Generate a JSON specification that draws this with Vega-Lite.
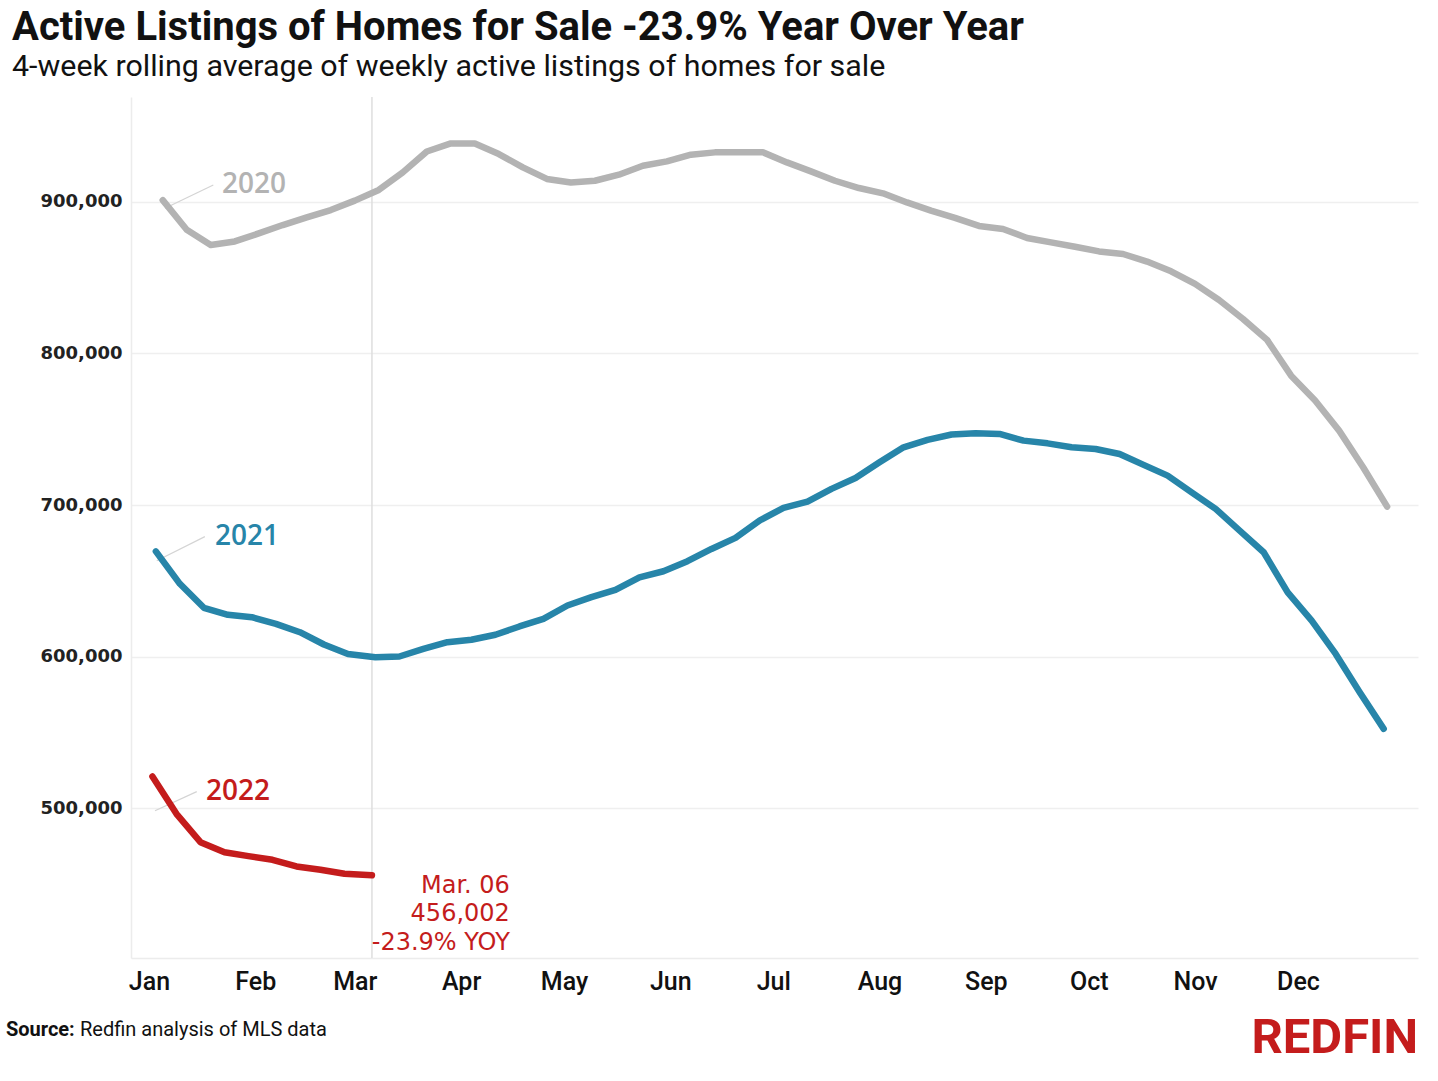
{
  "$schema": "https://vega.github.io/schema/vega-lite/v6.json",
  "width": 1287,
  "height": 861,
  "autosize": {"type": "none"},
  "padding": {"left": 131, "top": 97, "right": 20, "bottom": 123},
  "background": "white",
  "title": {
    "text": "Active Listings of Homes for Sale -23.9% Year Over Year",
    "subtitle": "4-week rolling average of weekly active listings of homes for sale",
    "anchor": "start",
    "frame": "group",
    "dx": -119,
    "offset": 14,
    "font": "Roboto",
    "fontSize": 40,
    "fontWeight": "bold",
    "color": "#111111",
    "subtitleFont": "Roboto",
    "subtitleFontSize": 30.4,
    "subtitleColor": "#111111",
    "subtitlePadding": 4
  },
  "datasets": {
    "listings": [
      {"series": "2020", "date": "2020-01-05", "value": 901000},
      {"series": "2020", "date": "2020-01-12", "value": 881500},
      {"series": "2020", "date": "2020-01-19", "value": 871500},
      {"series": "2020", "date": "2020-01-26", "value": 873800},
      {"series": "2020", "date": "2020-02-02", "value": 879100},
      {"series": "2020", "date": "2020-02-09", "value": 884600},
      {"series": "2020", "date": "2020-02-16", "value": 889700},
      {"series": "2020", "date": "2020-02-23", "value": 894500},
      {"series": "2020", "date": "2020-03-01", "value": 900700},
      {"series": "2020", "date": "2020-03-08", "value": 907700},
      {"series": "2020", "date": "2020-03-15", "value": 919300},
      {"series": "2020", "date": "2020-03-22", "value": 933100},
      {"series": "2020", "date": "2020-03-29", "value": 938400},
      {"series": "2020", "date": "2020-04-05", "value": 938400},
      {"series": "2020", "date": "2020-04-12", "value": 931400},
      {"series": "2020", "date": "2020-04-19", "value": 922600},
      {"series": "2020", "date": "2020-04-26", "value": 915000},
      {"series": "2020", "date": "2020-05-03", "value": 912700},
      {"series": "2020", "date": "2020-05-10", "value": 913800},
      {"series": "2020", "date": "2020-05-17", "value": 917800},
      {"series": "2020", "date": "2020-05-24", "value": 923700},
      {"series": "2020", "date": "2020-05-31", "value": 926600},
      {"series": "2020", "date": "2020-06-07", "value": 931000},
      {"series": "2020", "date": "2020-06-14", "value": 932500},
      {"series": "2020", "date": "2020-06-21", "value": 932500},
      {"series": "2020", "date": "2020-06-28", "value": 932500},
      {"series": "2020", "date": "2020-07-05", "value": 925900},
      {"series": "2020", "date": "2020-07-12", "value": 920000},
      {"series": "2020", "date": "2020-07-19", "value": 913800},
      {"series": "2020", "date": "2020-07-26", "value": 909000},
      {"series": "2020", "date": "2020-08-02", "value": 905500},
      {"series": "2020", "date": "2020-08-09", "value": 899500},
      {"series": "2020", "date": "2020-08-16", "value": 894100},
      {"series": "2020", "date": "2020-08-23", "value": 889300},
      {"series": "2020", "date": "2020-08-30", "value": 884000},
      {"series": "2020", "date": "2020-09-06", "value": 882000},
      {"series": "2020", "date": "2020-09-13", "value": 876100},
      {"series": "2020", "date": "2020-09-20", "value": 873200},
      {"series": "2020", "date": "2020-09-27", "value": 870300},
      {"series": "2020", "date": "2020-10-04", "value": 867200},
      {"series": "2020", "date": "2020-10-11", "value": 865500},
      {"series": "2020", "date": "2020-10-18", "value": 860500},
      {"series": "2020", "date": "2020-10-25", "value": 854100},
      {"series": "2020", "date": "2020-11-01", "value": 845800},
      {"series": "2020", "date": "2020-11-08", "value": 835200},
      {"series": "2020", "date": "2020-11-15", "value": 822700},
      {"series": "2020", "date": "2020-11-22", "value": 808900},
      {"series": "2020", "date": "2020-11-29", "value": 785300},
      {"series": "2020", "date": "2020-12-06", "value": 768900},
      {"series": "2020", "date": "2020-12-13", "value": 749100},
      {"series": "2020", "date": "2020-12-20", "value": 724900},
      {"series": "2020", "date": "2020-12-27", "value": 699000},
      {"series": "2021", "date": "2021-01-03", "value": 669500},
      {"series": "2021", "date": "2021-01-10", "value": 648100},
      {"series": "2021", "date": "2021-01-17", "value": 632300},
      {"series": "2021", "date": "2021-01-24", "value": 627700},
      {"series": "2021", "date": "2021-01-31", "value": 626100},
      {"series": "2021", "date": "2021-02-07", "value": 621700},
      {"series": "2021", "date": "2021-02-14", "value": 616200},
      {"series": "2021", "date": "2021-02-21", "value": 608100},
      {"series": "2021", "date": "2021-02-28", "value": 601900},
      {"series": "2021", "date": "2021-03-07", "value": 599700},
      {"series": "2021", "date": "2021-03-14", "value": 600200},
      {"series": "2021", "date": "2021-03-21", "value": 605200},
      {"series": "2021", "date": "2021-03-28", "value": 609600},
      {"series": "2021", "date": "2021-04-04", "value": 611200},
      {"series": "2021", "date": "2021-04-11", "value": 614500},
      {"series": "2021", "date": "2021-04-18", "value": 620000},
      {"series": "2021", "date": "2021-04-25", "value": 625000},
      {"series": "2021", "date": "2021-05-02", "value": 633800},
      {"series": "2021", "date": "2021-05-09", "value": 639300},
      {"series": "2021", "date": "2021-05-16", "value": 644100},
      {"series": "2021", "date": "2021-05-23", "value": 652400},
      {"series": "2021", "date": "2021-05-30", "value": 656400},
      {"series": "2021", "date": "2021-06-06", "value": 663000},
      {"series": "2021", "date": "2021-06-13", "value": 671100},
      {"series": "2021", "date": "2021-06-20", "value": 678400},
      {"series": "2021", "date": "2021-06-27", "value": 689800},
      {"series": "2021", "date": "2021-07-04", "value": 698200},
      {"series": "2021", "date": "2021-07-11", "value": 702300},
      {"series": "2021", "date": "2021-07-18", "value": 710700},
      {"series": "2021", "date": "2021-07-25", "value": 717900},
      {"series": "2021", "date": "2021-08-01", "value": 728200},
      {"series": "2021", "date": "2021-08-08", "value": 738100},
      {"series": "2021", "date": "2021-08-15", "value": 743000},
      {"series": "2021", "date": "2021-08-22", "value": 746500},
      {"series": "2021", "date": "2021-08-29", "value": 747400},
      {"series": "2021", "date": "2021-09-05", "value": 746900},
      {"series": "2021", "date": "2021-09-12", "value": 742500},
      {"series": "2021", "date": "2021-09-19", "value": 740700},
      {"series": "2021", "date": "2021-09-26", "value": 738100},
      {"series": "2021", "date": "2021-10-03", "value": 737000},
      {"series": "2021", "date": "2021-10-10", "value": 733700},
      {"series": "2021", "date": "2021-10-17", "value": 726500},
      {"series": "2021", "date": "2021-10-24", "value": 719400},
      {"series": "2021", "date": "2021-10-31", "value": 708400},
      {"series": "2021", "date": "2021-11-07", "value": 697500},
      {"series": "2021", "date": "2021-11-14", "value": 683200},
      {"series": "2021", "date": "2021-11-21", "value": 668900},
      {"series": "2021", "date": "2021-11-28", "value": 642500},
      {"series": "2021", "date": "2021-12-05", "value": 623900},
      {"series": "2021", "date": "2021-12-12", "value": 601900},
      {"series": "2021", "date": "2021-12-19", "value": 576600},
      {"series": "2021", "date": "2021-12-26", "value": 552500},
      {"series": "2022", "date": "2022-01-02", "value": 521100},
      {"series": "2022", "date": "2022-01-09", "value": 496500},
      {"series": "2022", "date": "2022-01-16", "value": 477800},
      {"series": "2022", "date": "2022-01-23", "value": 471200},
      {"series": "2022", "date": "2022-01-30", "value": 468600},
      {"series": "2022", "date": "2022-02-06", "value": 466200},
      {"series": "2022", "date": "2022-02-13", "value": 461800},
      {"series": "2022", "date": "2022-02-20", "value": 459600},
      {"series": "2022", "date": "2022-02-27", "value": 457000},
      {"series": "2022", "date": "2022-03-06", "value": 456002}
    ],
    "marker": [{"date": "2012-03-06"}],
    "leaders": [
      {"series": "2020", "date": "2012-01-05T16:00:00", "date2": "2012-01-19T18:00:00", "value": 895700, "value2": 911000},
      {"series": "2021", "date": "2012-01-03T06:00:00", "date2": "2012-01-17T07:00:00", "value": 663350, "value2": 679200},
      {"series": "2022", "date": "2012-01-02T18:00:00", "date2": "2012-01-14T22:00:00", "value": 498550, "value2": 511100}
    ],
    "yearLabels": [
      {"series": "2020", "date": "2012-01-22T07:00:00", "value": 905700, "label": "2020"},
      {"series": "2021", "date": "2012-01-20T05:00:00", "value": 673700, "label": "2021"},
      {"series": "2022", "date": "2012-01-17T14:00:00", "value": 505600, "label": "2022"}
    ],
    "callout": [
      {"date": "2012-04-15T05:00:00", "value": 444300, "label": "Mar. 06\n456,002\n-23.9% YOY"}
    ],
    "sourceBold": [{"date": "2011-11-20T07:00:00", "value": 350030, "label": "Source:"}],
    "sourceText": [{"date": "2011-12-11T21:00:00", "value": 350030, "label": "Redfin analysis of MLS data"}],
    "logo": [{"date": "2013-01-05T00:00:00", "value": 338820, "label": "REDFIN"}]
  },
  "layer": [
    {
      "data": {"name": "marker"},
      "mark": {"type": "rule", "color": "#dedede", "strokeWidth": 1.5},
      "encoding": {
        "x": {"field": "date", "type": "temporal"}
      }
    },
    {
      "data": {"name": "leaders"},
      "mark": {"type": "rule", "color": "#d4d4d4", "strokeWidth": 1.2},
      "encoding": {
        "x": {"field": "date", "type": "temporal"},
        "x2": {"field": "date2"},
        "y": {"field": "value", "type": "quantitative"},
        "y2": {"field": "value2"}
      }
    },
    {
      "data": {"name": "listings"},
      "mark": {"type": "line", "strokeWidth": 6.5, "strokeCap": "round", "strokeJoin": "round"},
      "encoding": {
        "x": {
          "field": "date",
          "timeUnit": "utcmonthdate",
          "type": "temporal",
          "scale": {
            "type": "utc",
            "domain": [
              {"year": 2011, "month": 12, "date": 26, "hours": 18, "utc": true},
              {"year": 2013, "month": 1, "date": 5, "utc": true}
            ]
          },
          "axis": {
            "title": null,
            "tickCount": "month",
            "labelExpr": "utcyear(datum.value) == 2012 ? utcFormat(datum.value, '%b') : ''",
            "grid": false,
            "ticks": false,
            "domain": true,
            "domainColor": "#ececec",
            "domainWidth": 1.5,
            "labelFont": "Roboto",
            "labelFontWeight": 500,
            "labelFontSize": 25,
            "labelColor": "#111111",
            "labelPadding": 11,
            "labelOverlap": false,
            "labelFlush": false
          }
        },
        "y": {
          "field": "value",
          "type": "quantitative",
          "scale": {"domain": [401450, 969000], "nice": false, "zero": false},
          "axis": {
            "title": null,
            "values": [500000, 600000, 700000, 800000, 900000],
            "format": ",.0f",
            "grid": true,
            "gridColor": "#efefef",
            "gridWidth": 1.5,
            "ticks": false,
            "domain": true,
            "domainColor": "#ececec",
            "domainWidth": 1.5,
            "labelFont": "DejaVu Sans",
            "labelFontWeight": "bold",
            "labelFontSize": 18,
            "labelColor": "#222222",
            "labelPadding": 9
          }
        },
        "color": {
          "field": "series",
          "type": "nominal",
          "scale": {"domain": ["2020", "2021", "2022"], "range": ["#b3b3b3", "#2785a9", "#c41c1c"]},
          "legend": null
        },
        "order": {"field": "date", "type": "temporal"}
      }
    },
    {
      "data": {"name": "yearLabels"},
      "mark": {"type": "text", "align": "left", "baseline": "alphabetic", "font": "Open Sans", "fontWeight": 600, "fontSize": 28},
      "encoding": {
        "x": {"field": "date", "type": "temporal"},
        "y": {"field": "value", "type": "quantitative"},
        "text": {"field": "label"},
        "color": {"field": "series", "type": "nominal", "legend": null}
      }
    },
    {
      "data": {"name": "callout"},
      "mark": {"type": "text", "align": "right", "baseline": "alphabetic", "lineBreak": "\n", "lineHeight": 28.5, "font": "DejaVu Sans", "fontSize": 24, "color": "#c41c1c"},
      "encoding": {
        "x": {"field": "date", "type": "temporal"},
        "y": {"field": "value", "type": "quantitative"},
        "text": {"field": "label"}
      }
    },
    {
      "data": {"name": "sourceBold"},
      "mark": {"type": "text", "align": "left", "baseline": "alphabetic", "font": "Roboto", "fontWeight": "bold", "fontSize": 20, "color": "#111111"},
      "encoding": {
        "x": {"field": "date", "type": "temporal"},
        "y": {"field": "value", "type": "quantitative"},
        "text": {"field": "label"}
      }
    },
    {
      "data": {"name": "sourceText"},
      "mark": {"type": "text", "align": "left", "baseline": "alphabetic", "font": "Roboto", "fontSize": 20, "color": "#111111"},
      "encoding": {
        "x": {"field": "date", "type": "temporal"},
        "y": {"field": "value", "type": "quantitative"},
        "text": {"field": "label"}
      }
    },
    {
      "data": {"name": "logo"},
      "mark": {"type": "text", "align": "right", "baseline": "alphabetic", "font": "Roboto", "fontWeight": "bold", "fontSize": 49, "color": "#c41c1c"},
      "encoding": {
        "x": {"field": "date", "type": "temporal"},
        "y": {"field": "value", "type": "quantitative"},
        "text": {"field": "label"}
      }
    }
  ],
  "config": {
    "view": {"stroke": null}
  }
}
